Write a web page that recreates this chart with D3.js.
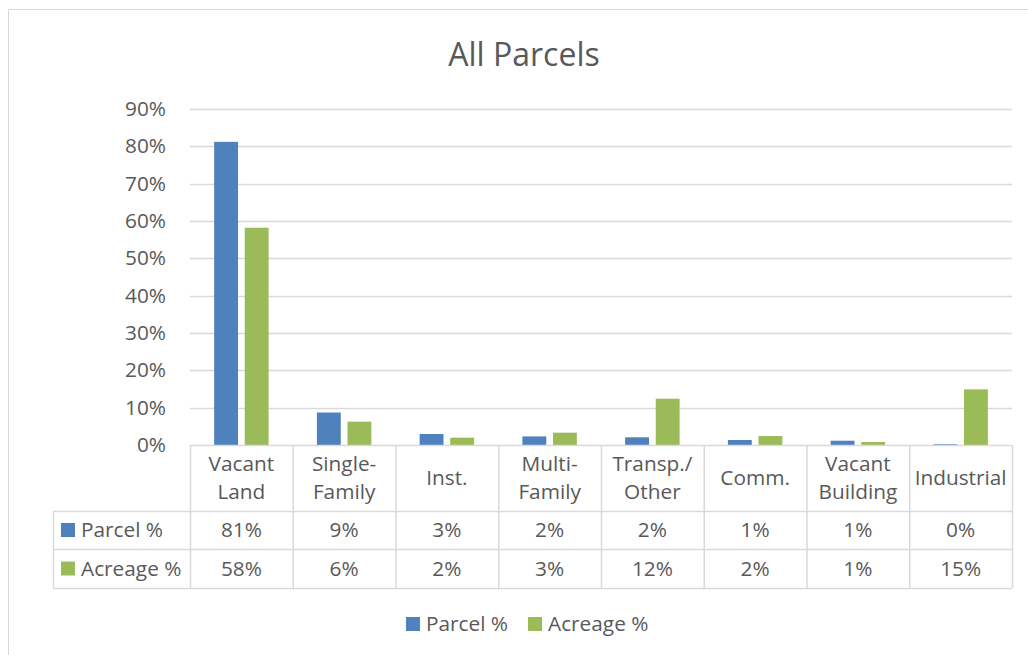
<!DOCTYPE html>
<html>
<head>
<meta charset="utf-8">
<script src="https://cdn.jsdelivr.net/npm/d3@7"></script>
<style>
  body { margin: 0; background: #fff; }
  svg text { font-family: "Open Sans", Lato, sans-serif; fill: #595959; }
</style>
</head>
<body>
<div id="chart"></div>
<script>
// Categories and header lines
var categories = ["Vacant Land", "Single-Family", "Inst.", "Multi-Family", "Transp./Other", "Comm.", "Vacant Building", "Industrial"];
var categoryLines = [["Vacant", "Land"], ["Single-", "Family"], ["Inst."], ["Multi-", "Family"], ["Transp./", "Other"], ["Comm."], ["Vacant", "Building"], ["Industrial"]];

// Series values (fractions)
var parcelPct = [0.812, 0.087, 0.0295, 0.023, 0.0206, 0.0134, 0.0115, 0.002];
var acreagePct = [0.582, 0.0625, 0.0196, 0.033, 0.124, 0.024, 0.008, 0.149];

var seriesNames = ["Parcel %", "Acreage %"];
var seriesColors = ["#4f81bd", "#9bbb59"];
var yTicks = [0, 0.1, 0.2, 0.3, 0.4, 0.5, 0.6, 0.7, 0.8, 0.9];

function init() {
    var w = 1028, h = 655;
    var left = 190, right = 1012, top = 109, bottom = 445;
    var gridColor = "#d9d9d9";
    var fs = "20.8px";

    var svg = d3.select("#chart").append("svg")
        .attr("width", w)
        .attr("height", h);

    // outer chart border
    svg.append("path")
        .attr("d", "M8.5," + h + "V9.5H" + w)
        .attr("fill", "none")
        .attr("stroke", gridColor);

    // title
    svg.append("text")
        .attr("x", 524).attr("y", 66)
        .attr("text-anchor", "middle")
        .style("font-size", "32px")
        .text("All Parcels");

    var x0 = d3.scaleBand().domain(categories).range([left, right]);
    var x1 = d3.scaleBand().domain(seriesNames)
        .range([x0.bandwidth() * 0.235, x0.bandwidth() * 0.765])
        .paddingInner(0.22);
    var y = d3.scaleLinear().domain([0, 0.9]).range([bottom, top]);

    // gridlines
    svg.append("g").selectAll("line")
        .data(yTicks.slice(1))
        .enter().append("line")
        .attr("x1", left).attr("x2", right)
        .attr("y1", function (d) { return Math.round(y(d)) + 0.5; })
        .attr("y2", function (d) { return Math.round(y(d)) + 0.5; })
        .attr("stroke", gridColor)
        .attr("stroke-width", 1.5);

    // y axis labels
    var yAxis = d3.axisLeft(y).tickValues(yTicks).tickFormat(d3.format(".0%")).tickSize(0).tickPadding(0);
    var ya = svg.append("g").attr("transform", "translate(166,0)").call(yAxis);
    ya.select(".domain").remove();
    ya.selectAll("text")
        .style("font-size", fs)
        .style("font-family", "'Open Sans', Lato, sans-serif")
        .attr("fill", "#595959");

    // bars
    var series = [parcelPct, acreagePct];
    var groups = svg.append("g").selectAll("g")
        .data(categories)
        .enter().append("g")
        .attr("transform", function (d) { return "translate(" + x0(d) + ",0)"; });

    groups.selectAll("rect")
        .data(function (d, i) {
            return seriesNames.map(function (s, j) { return { s: s, v: series[j][i], c: seriesColors[j] }; });
        })
        .enter().append("rect")
        .attr("x", function (d) { return x1(d.s); })
        .attr("width", x1.bandwidth())
        .attr("y", function (d) { return y(d.v); })
        .attr("height", function (d) { return bottom - y(d.v); })
        .attr("fill", function (d) { return d.c; });

    // data table
    var tableLeft = 53;
    var rowY = [bottom, 511, 549, 588];
    var table = svg.append("g");

    // horizontal lines
    table.append("line").attr("x1", left).attr("x2", right).attr("y1", rowY[0] + 0.5).attr("y2", rowY[0] + 0.5);
    rowY.slice(1).forEach(function (yy) {
        table.append("line").attr("x1", tableLeft).attr("x2", right).attr("y1", yy + 0.5).attr("y2", yy + 0.5);
    });
    // vertical lines
    categories.concat(["end"]).forEach(function (c, i) {
        var xx = i < categories.length ? x0(c) : right;
        table.append("line").attr("x1", xx + 0.5).attr("x2", xx + 0.5).attr("y1", rowY[0]).attr("y2", rowY[3]);
    });
    table.append("line").attr("x1", tableLeft + 0.5).attr("x2", tableLeft + 0.5).attr("y1", rowY[1]).attr("y2", rowY[3]);
    table.selectAll("line").attr("stroke", gridColor).attr("stroke-width", 1.5);

    // header labels
    categoryLines.forEach(function (lines, i) {
        var cx = x0(categories[i]) + x0.bandwidth() / 2;
        var cy = (rowY[0] + rowY[1]) / 2;
        var t = table.append("text")
            .attr("x", cx)
            .attr("text-anchor", "middle")
            .style("font-size", fs);
        lines.forEach(function (l, k) {
            t.append("tspan")
                .attr("x", cx)
                .attr("y", cy + 7 + (k - (lines.length - 1) / 2) * 28)
                .text(l);
        });
    });

    // value rows
    var fmt = d3.format(".0%");
    series.forEach(function (vals, j) {
        var cy = (rowY[j + 1] + rowY[j + 2]) / 2 + 7;
        table.append("rect")
            .attr("x", 61).attr("y", cy - 14)
            .attr("width", 14).attr("height", 14)
            .attr("fill", seriesColors[j]);
        table.append("text")
            .attr("x", 81).attr("y", cy)
            .style("font-size", fs)
            .text(seriesNames[j]);
        table.selectAll(null)
            .data(vals)
            .enter().append("text")
            .attr("x", function (d, i) { return x0(categories[i]) + x0.bandwidth() / 2; })
            .attr("y", cy)
            .attr("text-anchor", "middle")
            .style("font-size", fs)
            .text(function (d) { return fmt(d); });
    });

    // legend
    var legendX = [406, 528];
    var legend = svg.append("g").selectAll("g")
        .data(seriesNames)
        .enter().append("g")
        .attr("transform", function (d, i) { return "translate(" + legendX[i] + ",617)"; });
    legend.append("rect")
        .attr("width", 14).attr("height", 14)
        .attr("fill", function (d, i) { return seriesColors[i]; });
    legend.append("text")
        .attr("x", 20).attr("y", 14)
        .style("font-size", fs)
        .text(function (d) { return d; });
}

window.onload = init;
</script>
</body>
</html>
